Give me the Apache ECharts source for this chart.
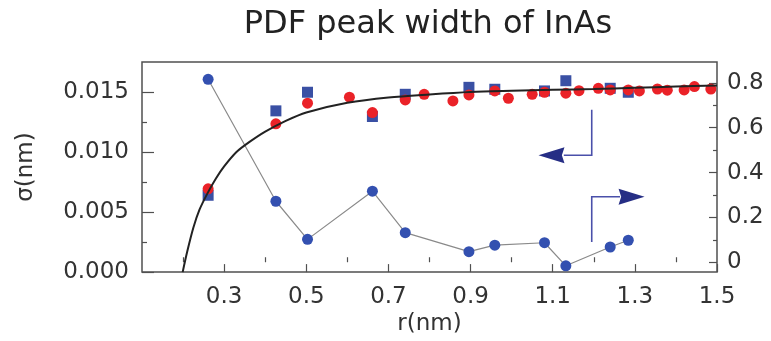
<!DOCTYPE html>
<html>
<head>
<meta charset="utf-8">
<script src="https://cdn.jsdelivr.net/npm/echarts@6/dist/echarts.min.js"></script>
<style>html,body{margin:0;padding:0;background:#fff}#c{width:771px;height:341px}</style>
</head>
<body>
<div id="c"></div>
<script>
// ---- data ----
const rBlue = [0.261, 0.426, 0.503, 0.661, 0.741, 0.896, 0.959, 1.080, 1.132, 1.240, 1.284];
const sigmaSquare = [0.0064, 0.01343, 0.01498, 0.01296, 0.01481, 0.01539, 0.01523, 0.01509, 0.01594, 0.01531, 0.01498];
const rightCircle = [0.816, 0.272, 0.102, 0.317, 0.132, 0.047, 0.076, 0.087, -0.016, 0.068, 0.098];
const rRed = [0.261, 0.426, 0.503, 0.605, 0.661, 0.741, 0.787, 0.857, 0.896, 0.959, 0.992, 1.050, 1.080, 1.132, 1.164, 1.211, 1.240, 1.284, 1.311, 1.355, 1.379, 1.420, 1.445, 1.485];
const sigmaRed = [0.00694, 0.01235, 0.01407, 0.01457, 0.01329, 0.01434, 0.01481, 0.01426, 0.01476, 0.01509, 0.01448, 0.01481, 0.01498, 0.01490, 0.01511, 0.01531, 0.01517, 0.01517, 0.01509, 0.01525, 0.01515, 0.01517, 0.01545, 0.01525];
const rFit = [0.199, 0.21, 0.225, 0.24, 0.26, 0.28, 0.30, 0.33, 0.36, 0.40, 0.45, 0.50, 0.60, 0.70, 0.80, 0.90, 1.0, 1.1, 1.2, 1.3, 1.4, 1.5];
const sigmaFit = [0, 0.0017, 0.0037, 0.0052, 0.0066, 0.0078, 0.0088, 0.0100, 0.0108, 0.0117, 0.0126, 0.0133, 0.0141, 0.01455, 0.0148, 0.0150, 0.0151, 0.01518, 0.01525, 0.01535, 0.01545, 0.01555];
// annotation arrows (data coordinates): shaft polyline + head centre
const arrowLeftShaft = [[1.195, 0.01352], [1.195, 0.00973], [1.127, 0.00973]];
const arrowLeftHead = [1.097, 0.00973];
const arrowRightShaft = [[1.195, 0.090], [1.195, 0.292], [1.264, 0.292]];
const arrowRightHead = [1.292, 0.292];
// ticks
const xLabels = [0.3, 0.5, 0.7, 0.9, 1.1, 1.3, 1.5];
const xMinor = [0.2, 0.4, 0.6, 0.8, 1.0, 1.2, 1.4];
const yLeftLabels = [0, 0.005, 0.010, 0.015];
const yLeftMinor = [0.0025, 0.0075, 0.0125];
const yRightLabels = [0, 0.2, 0.4, 0.6, 0.8];
const yRightMinor = [0.1, 0.3, 0.5, 0.7];

const zip = (a, b) => a.map((v, i) => [v, b[i]]);
const FONT = 'DejaVu Sans';
const TXT = '#333';
const AX = '#505050';
const X = {min: 0.1, max: 1.5}, YL = {min: 0, max: 0.0175}, YR = {min: -0.044, max: 0.893};

function axis(base, extra) {
  return Object.assign({type: 'value', splitLine: {show: false}, axisLine: {show: false}}, base, extra);
}
const tick = (len, vals) => ({inside: true, length: len, customValues: vals, lineStyle: {color: AX, width: 1.2}});
const lab = (vals, margin, fmt) => ({customValues: vals, margin, fontFamily: FONT, fontSize: 23, color: TXT, formatter: fmt});

const chart = echarts.init(document.getElementById('c'), null, {renderer: 'canvas'});
chart.setOption({
  animation: false,
  backgroundColor: '#fff',
  title: {
    text: 'PDF peak width of InAs', left: 423, top: 4, textAlign: 'center',
    textStyle: {fontFamily: FONT, fontSize: 32, fontWeight: 'normal', color: '#222'}
  },
  grid: {left: 142, right: 54, top: 62, bottom: 68, show: true, borderColor: AX, borderWidth: 1.5, backgroundColor: 'transparent'},
  xAxis: [
    axis(X, {
      position: 'bottom',
      name: 'r(nm)', nameLocation: 'middle', nameGap: 38,
      nameTextStyle: {fontFamily: FONT, fontSize: 23, color: TXT},
      axisTick: tick(8, xLabels),
      axisLabel: lab(xLabels, 13, v => v.toFixed(1))
    }),
    axis(X, {position: 'bottom', axisTick: tick(5, xMinor), axisLabel: {show: false}})
  ],
  yAxis: [
    axis(YL, {
      position: 'left',
      name: 'σ(nm)', nameLocation: 'middle', nameGap: 104,
      nameTextStyle: {fontFamily: FONT, fontSize: 23, color: TXT},
      axisTick: tick(12, yLeftLabels),
      axisLabel: lab(yLeftLabels, 13, v => v.toFixed(3))
    }),
    axis(YR, {
      position: 'right',
      axisTick: tick(8, yRightLabels),
      axisLabel: lab(yRightLabels, 10, v => v === 0 ? '0' : v.toFixed(1))
    }),
    axis(YL, {position: 'left', axisTick: tick(5, yLeftMinor), axisLabel: {show: false}}),
    axis(YR, {position: 'right', axisTick: tick(4, yRightMinor), axisLabel: {show: false}})
  ],
  series: [
    {
      type: 'line', name: 'right', xAxisIndex: 0, yAxisIndex: 1, z: 2,
      data: zip(rBlue, rightCircle),
      symbol: 'circle', symbolSize: 11,
      itemStyle: {color: '#3350b0', opacity: 1},
      lineStyle: {color: '#8a8a8a', width: 1.2}
    },
    {
      type: 'scatter', name: 'square', xAxisIndex: 0, yAxisIndex: 0, z: 3,
      data: zip(rBlue, sigmaSquare),
      symbol: 'rect', symbolSize: 11,
      itemStyle: {color: '#3a50a4', opacity: 1}
    },
    {
      type: 'scatter', name: 'red', xAxisIndex: 0, yAxisIndex: 0, z: 4,
      data: zip(rRed, sigmaRed),
      symbol: 'circle', symbolSize: 11,
      itemStyle: {color: '#ea2228', opacity: 1}
    },
    {
      type: 'line', name: 'fit', xAxisIndex: 0, yAxisIndex: 0, z: 5,
      data: zip(rFit, sigmaFit),
      showSymbol: false, symbol: 'none', smooth: 0.3,
      lineStyle: {color: '#222', width: 2}
    },
    {
      type: 'lines', coordinateSystem: 'cartesian2d', xAxisIndex: 0, yAxisIndex: 0, polyline: true, z: 6,
      lineStyle: {color: '#4a50aa', width: 1.6, opacity: 1},
      data: [{coords: arrowLeftShaft}]
    },
    {
      type: 'lines', coordinateSystem: 'cartesian2d', xAxisIndex: 0, yAxisIndex: 1, polyline: true, z: 6,
      lineStyle: {color: '#4a50aa', width: 1.6, opacity: 1},
      data: [{coords: arrowRightShaft}]
    },
    {
      type: 'scatter', xAxisIndex: 0, yAxisIndex: 0, z: 7,
      data: [arrowLeftHead],
      symbol: 'path://M0,5 L10,0 L9,5 L10,10 Z', symbolSize: [26, 16],
      itemStyle: {color: '#262e85', opacity: 1}
    },
    {
      type: 'scatter', xAxisIndex: 0, yAxisIndex: 1, z: 7,
      data: [arrowRightHead],
      symbol: 'path://M10,5 L0,0 L1,5 L0,10 Z', symbolSize: [26, 16],
      itemStyle: {color: '#262e85', opacity: 1}
    }
  ]
});
</script>
</body>
</html>
